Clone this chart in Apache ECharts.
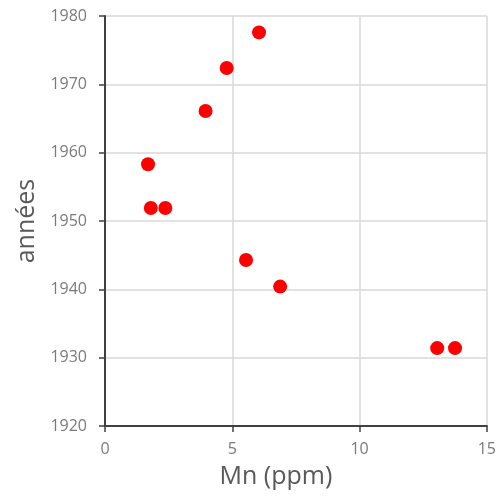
<!DOCTYPE html>
<html>
<head>
<meta charset="utf-8">
<script src="https://cdn.jsdelivr.net/npm/echarts@6/dist/echarts.min.js"></script>
<style>html,body{margin:0;padding:0;background:#fff;}#c{width:499px;height:500px;}</style>
</head>
<body>
<div id="c"></div>
<script>
const mnValues = [1.69, 1.80, 2.37, 3.95, 4.78, 6.05, 5.54, 6.88, 13.05, 13.75];
const yearValues = [1958.3, 1951.9, 1951.9, 1966.1, 1972.4, 1977.6, 1944.3, 1940.4, 1931.4, 1931.4];
const xAxisName = 'Mn (ppm)';
const yAxisName = 'années';

const chart = echarts.init(document.getElementById('c'));
const fontFamily = '"Open Sans", Lato, sans-serif';
chart.setOption({
  animation: false,
  grid: { left: 105, right: 10, top: 16, bottom: 74 },
  xAxis: {
    type: 'value', min: 0, max: 15, interval: 5,
    name: xAxisName, nameLocation: 'middle', nameGap: 38,
    nameTextStyle: { fontSize: 25, color: '#595959', fontFamily, padding: [0, 40, 0, 0] },
    axisLine: { show: true, onZero: false, lineStyle: { color: '#404040', width: 2 } },
    axisTick: { show: true, length: 6, lineStyle: { color: '#404040', width: 1.5 } },
    axisLabel: { fontSize: 16, color: '#7a7a7a', fontFamily, margin: 15, formatter: v => String(v) },
    splitLine: { show: true, lineStyle: { color: '#d9d9d9', width: 1.5 } }
  },
  yAxis: {
    type: 'value', min: 1920, max: 1980, interval: 10,
    name: yAxisName, nameLocation: 'middle', nameGap: 64, nameRotate: 90,
    nameTextStyle: { fontSize: 25, color: '#595959', fontFamily },
    axisLine: { show: true, lineStyle: { color: '#404040', width: 2 } },
    axisTick: { show: true, length: 6, lineStyle: { color: '#404040', width: 1.5 } },
    axisLabel: { fontSize: 16, color: '#7a7a7a', fontFamily, margin: 18, formatter: v => String(v) },
    splitLine: { show: true, lineStyle: { color: '#d9d9d9', width: 1.5 } }
  },
  series: [{
    type: 'scatter',
    symbol: 'circle',
    symbolSize: 14,
    itemStyle: { color: '#ff0000', opacity: 1 },
    data: mnValues.map((x, i) => [x, yearValues[i]])
  }]
});
</script>
</body>
</html>
